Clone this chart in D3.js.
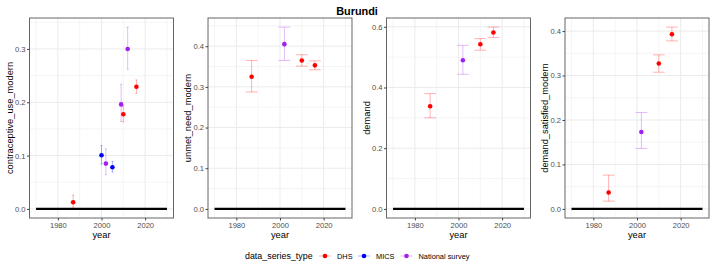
<!DOCTYPE html>
<html>
<head>
<meta charset="utf-8">
<script src="https://cdn.jsdelivr.net/npm/d3@7"></script>
<style>
  body { margin: 0; background: #fff; }
  svg { display: block; font-family: "Liberation Sans", Arial, sans-serif; }
</style>
</head>
<body>
<div id="chart"></div>
<script>
// indicators, one panel each
var indicators = ["contraceptive_use_modern", "unmet_need_modern", "demand", "demand_satisfied_modern"];
var seriesTypes = ["DHS", "MICS", "National survey"];
var xTicks = [1980, 2000, 2020];
var xLine = [1970, 2030];

// contraceptive_use_modern
var cpYear  = [1987, 2000, 2002, 2005, 2009, 2010, 2012, 2016];
var cpType  = ["DHS", "MICS", "National survey", "MICS", "National survey", "DHS", "National survey", "DHS"];
var cpValue = [0.0125, 0.1005, 0.085, 0.078, 0.196, 0.1775, 0.300, 0.229];
var cpLower = [0.003, 0.084, 0.064, 0.069, 0.164, 0.163, 0.262, 0.217];
var cpUpper = [0.026, 0.119, 0.1125, 0.089, 0.234, 0.193, 0.341, 0.242];

// unmet_need_modern
var unYear  = [1987, 2002, 2010, 2016];
var unType  = ["DHS", "National survey", "DHS", "DHS"];
var unValue = [0.325, 0.405, 0.365, 0.353];
var unLower = [0.2875, 0.365, 0.351, 0.342];
var unUpper = [0.365, 0.447, 0.379, 0.364];

// demand
var dmYear  = [1987, 2002, 2010, 2016];
var dmType  = ["DHS", "National survey", "DHS", "DHS"];
var dmValue = [0.338, 0.490, 0.5425, 0.581];
var dmLower = [0.300, 0.4435, 0.523, 0.565];
var dmUpper = [0.380, 0.539, 0.561, 0.599];

// demand_satisfied_modern
var dsYear  = [1987, 2002, 2010, 2016];
var dsType  = ["DHS", "National survey", "DHS", "DHS"];
var dsValue = [0.037, 0.173, 0.327, 0.393];
var dsLower = [0.0175, 0.136, 0.3075, 0.378];
var dsUpper = [0.076, 0.217, 0.3465, 0.409];

function rows(year, type, value, lower, upper) {
  return year.map(function (y, i) {
    return {year: y, type: type[i], value: value[i], lower: lower[i], upper: upper[i]};
  });
}

var panels = [
  rows(cpYear, cpType, cpValue, cpLower, cpUpper),
  rows(unYear, unType, unValue, unLower, unUpper),
  rows(dmYear, dmType, dmValue, dmLower, dmUpper),
  rows(dsYear, dsType, dsValue, dsLower, dsUpper)
];

var W = 714, H = 268;
var panelW = W / 4;
var plot = {left: 29.5, right: 173.5, top: 18, bottom: 218};

var color = d3.scaleOrdinal()
    .domain(seriesTypes)
    .range(["#FF0000", "#0000FF", "#A020F0"]);

var svg = d3.select('#chart')
    .append('svg')
    .attr('width', W)
    .attr('height', H);

svg.append('text')
    .attr('x', W / 2)
    .attr('y', 15)
    .attr('text-anchor', 'middle')
    .style('font-size', '10.9px')
    .style('font-weight', 'bold')
    .text('Burundi');

// ggplot style 5% expansion
function expand(lo, hi) {
  var r = hi - lo;
  return [lo - 0.05 * r, hi + 0.05 * r];
}

function minorBreaks(major, domain) {
  var step = major[1] - major[0];
  var out = [];
  for (var i = -1; i < major.length; i++) {
    var m = (i < 0 ? major[0] - step : major[i]) + step / 2;
    if (m >= domain[0] && m <= domain[1]) out.push(m);
  }
  return out;
}

panels.forEach(function (data, p) {
  var g = svg.append('g')
      .attr('transform', 'translate(' + (p * panelW) + ',0)');

  var x = d3.scaleLinear()
      .domain(expand(xLine[0], xLine[1]))
      .range([plot.left, plot.right]);

  var lo = Math.min(0, d3.min(data, function (d) { return d.lower; }));
  var hi = d3.max(data, function (d) { return d.upper; });
  var y = d3.scaleLinear()
      .domain(expand(lo, hi))
      .range([plot.bottom, plot.top]);

  var yTicks = y.ticks(4);
  var yMinor = minorBreaks(yTicks, y.domain());
  var xMinor = minorBreaks(xTicks, x.domain());

  // grid
  var grid = g.append('g').attr('class', 'grid');
  grid.selectAll('.ymin').data(yMinor).enter().append('line')
      .attr('x1', plot.left).attr('x2', plot.right)
      .attr('y1', function (d) { return y(d); }).attr('y2', function (d) { return y(d); })
      .attr('stroke', '#EBEBEB').attr('stroke-width', 0.5);
  grid.selectAll('.xmin').data(xMinor).enter().append('line')
      .attr('y1', plot.top).attr('y2', plot.bottom)
      .attr('x1', function (d) { return x(d); }).attr('x2', function (d) { return x(d); })
      .attr('stroke', '#EBEBEB').attr('stroke-width', 0.5);
  grid.selectAll('.ymaj').data(yTicks).enter().append('line')
      .attr('x1', plot.left).attr('x2', plot.right)
      .attr('y1', function (d) { return y(d); }).attr('y2', function (d) { return y(d); })
      .attr('stroke', '#EBEBEB').attr('stroke-width', 1);
  grid.selectAll('.xmaj').data(xTicks).enter().append('line')
      .attr('y1', plot.top).attr('y2', plot.bottom)
      .attr('x1', function (d) { return x(d); }).attr('x2', function (d) { return x(d); })
      .attr('stroke', '#EBEBEB').attr('stroke-width', 1);

  // zero reference line
  g.append('line')
      .attr('x1', x(xLine[0])).attr('x2', x(xLine[1]))
      .attr('y1', y(0)).attr('y2', y(0))
      .attr('stroke', '#000').attr('stroke-width', 2.2);

  // errorbar width like ggplot: 0.9 * data resolution
  var yrs = Array.from(new Set(data.map(function (d) { return d.year; }))).sort(d3.ascending);
  var res = d3.min(d3.pairs(yrs), function (pr) { return pr[1] - pr[0]; });
  var half = 0.45 * res;

  var eb = g.append('g').attr('class', 'errorbars')
      .selectAll('g').data(data).enter().append('g')
      .attr('stroke', function (d) { return color(d.type); })
      .attr('stroke-opacity', 0.3)
      .attr('stroke-width', 1);
  eb.append('line')
      .attr('x1', function (d) { return x(d.year); }).attr('x2', function (d) { return x(d.year); })
      .attr('y1', function (d) { return y(d.lower); }).attr('y2', function (d) { return y(d.upper); });
  eb.append('line')
      .attr('x1', function (d) { return x(d.year - half); }).attr('x2', function (d) { return x(d.year + half); })
      .attr('y1', function (d) { return y(d.lower); }).attr('y2', function (d) { return y(d.lower); });
  eb.append('line')
      .attr('x1', function (d) { return x(d.year - half); }).attr('x2', function (d) { return x(d.year + half); })
      .attr('y1', function (d) { return y(d.upper); }).attr('y2', function (d) { return y(d.upper); });

  g.append('g').attr('class', 'points')
      .selectAll('circle').data(data).enter().append('circle')
      .attr('cx', function (d) { return x(d.year); })
      .attr('cy', function (d) { return y(d.value); })
      .attr('r', 2.3)
      .attr('fill', function (d) { return color(d.type); });

  // border
  g.append('rect')
      .attr('x', plot.left).attr('y', plot.top)
      .attr('width', plot.right - plot.left).attr('height', plot.bottom - plot.top)
      .attr('fill', 'none').attr('stroke', '#666').attr('stroke-width', 1);

  // axes
  var xAxis = g.append('g')
      .attr('transform', 'translate(0,' + plot.bottom + ')')
      .call(d3.axisBottom(x).tickValues(xTicks).tickSize(2.5).tickPadding(2).tickFormat(d3.format('d')));
  var yAxis = g.append('g')
      .attr('transform', 'translate(' + plot.left + ',0)')
      .call(d3.axisLeft(y).tickValues(yTicks).tickSize(2.5).tickPadding(1.5).tickFormat(d3.format('.1f')));
  [xAxis, yAxis].forEach(function (a) {
    a.select('.domain').remove();
    a.selectAll('.tick line').attr('stroke', '#444');
    a.selectAll('.tick text')
        .attr('fill', '#4D4D4D')
        .style('font-size', '7.6px')
        .style('font-family', '"Liberation Sans", Arial, sans-serif');
  });

  g.append('text')
      .attr('x', (plot.left + plot.right) / 2)
      .attr('y', 235)
      .attr('text-anchor', 'middle')
      .attr('dominant-baseline', 'central')
      .style('font-size', '9.3px')
      .text('year');

  g.append('text')
      .attr('transform', 'translate(9.5,' + ((plot.top + plot.bottom) / 2) + ') rotate(-90)')
      .attr('text-anchor', 'middle')
      .attr('dominant-baseline', 'central')
      .style('font-size', '9.3px')
      .text(indicators[p]);
});

// legend
var legend = svg.append('g').attr('transform', 'translate(0,256)');
legend.append('text')
    .attr('x', 245).attr('y', 0)
    .attr('dominant-baseline', 'central')
    .style('font-size', '8.9px')
    .text('data_series_type');

var keyX = [325, 364, 406.5];
var keys = legend.selectAll('.key').data(seriesTypes).enter().append('g')
    .attr('transform', function (d, i) { return 'translate(' + keyX[i] + ',0)'; });
keys.append('line')
    .attr('x1', -6).attr('x2', 6)
    .attr('stroke', function (d) { return color(d); })
    .attr('stroke-opacity', 0.3)
    .attr('stroke-width', 1);
keys.append('circle')
    .attr('r', 2.3)
    .attr('fill', function (d) { return color(d); });
keys.append('text')
    .attr('x', 12).attr('y', 0)
    .attr('dominant-baseline', 'central')
    .style('font-size', '7.4px')
    .text(function (d) { return d; });
</script>
</body>
</html>
